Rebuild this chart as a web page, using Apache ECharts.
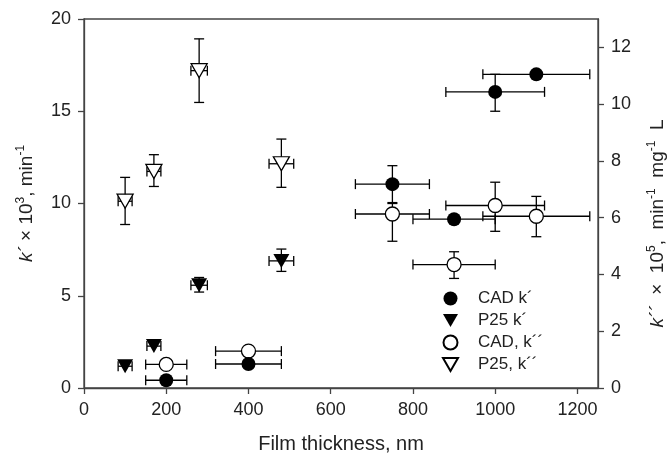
<!DOCTYPE html>
<html>
<head>
<meta charset="utf-8">
<script src="https://cdn.jsdelivr.net/npm/echarts@6/dist/echarts.min.js"></script>
<style>
  html, body { margin: 0; padding: 0; background: #fff; }
  #main { width: 667px; height: 456px; }
</style>
</head>
<body>
<div id="main"></div>
<script>
// CAD films: thickness (nm), k' (left axis) and k'' (right axis)
const cadThick = [200, 400, 750, 900, 1000, 1100];
const cadXLo = [150, 320, 660, 800, 880, 970];
const cadXHi = [250, 480, 840, 1000, 1120, 1230];
const cadK1 = [0.42, 1.3, 11.05, 9.15, 16.05, 17.0];
const cadK1Lo = [null, null, 10.05, null, 15.0, null];
const cadK1Hi = [null, null, 12.05, null, 17.0, null];
const cadK2 = [0.83, 1.3, 6.13, 4.35, 6.43, 6.05];
const cadK2Lo = [null, null, 5.17, 3.86, 5.52, 5.33];
const cadK2Hi = [null, null, 6.5, 4.8, 7.25, 6.75];

// P25 films
const p25Thick = [100, 170, 280, 480];
const p25XLo = [83, 153, 260, 450];
const p25XHi = [117, 187, 300, 510];
const p25K1 = [1.18, 2.27, 5.57, 6.89];
const p25K1Lo = [null, null, 5.2, 6.32];
const p25K1Hi = [null, null, 5.99, 7.53];
const p25K2 = [6.58, 7.63, 11.18, 7.9];
const p25K2Lo = [5.76, 7.1, 10.06, 7.07];
const p25K2Hi = [7.42, 8.22, 12.3, 8.77];

const xTicks = [0, 200, 400, 600, 800, 1000, 1200];
const names = ['CAD k\u00b4', 'P25 k\u00b4', 'CAD, k\u00b4\u00b4', 'P25, k\u00b4\u00b4'];

const FONT = '"Liberation Sans", Arial, sans-serif';
const INK = '#222';
const DOWN = 'path://M0,0 L16,0 L8,14 Z';

function pts(xs, ys) {
  return xs.map((x, i) => [x, ys[i]]);
}

function errRows(xs, ys, xlo, xhi, ylo, yhi) {
  const f = v => (v == null ? NaN : v);
  return xs.map((x, i) => [x, ys[i], f(xlo[i]), f(xhi[i]), f(ylo[i]), f(yhi[i])]);
}

function renderErr(params, api) {
  const x = api.value(0), y = api.value(1);
  const xlo = api.value(2), xhi = api.value(3), ylo = api.value(4), yhi = api.value(5);
  const cap = 5;
  const st = { stroke: '#000', lineWidth: 1.3 };
  const kids = [];
  const line = (x1, y1, x2, y2) => kids.push({ type: 'line', shape: { x1, y1, x2, y2 }, style: st });
  if (isFinite(xlo) && isFinite(xhi)) {
    const l = api.coord([xlo, y]), r = api.coord([xhi, y]);
    line(l[0], l[1], r[0], r[1]);
    line(l[0], l[1] - cap, l[0], l[1] + cap);
    line(r[0], r[1] - cap, r[0], r[1] + cap);
  }
  if (isFinite(ylo) && isFinite(yhi)) {
    const t = api.coord([x, yhi]), b = api.coord([x, ylo]);
    line(t[0], t[1], b[0], b[1]);
    line(t[0] - cap, t[1], t[0] + cap, t[1]);
    line(b[0] - cap, b[1], b[0] + cap, b[1]);
  }
  return { type: 'group', children: kids };
}

function errSeries(name, rows, yAxisIndex) {
  return {
    name: name, type: 'custom', yAxisIndex: yAxisIndex, z: 2,
    renderItem: renderErr, data: rows, encode: { x: 0, y: 1 },
    silent: true, animation: false
  };
}

const openStyle = { color: '#fff', borderColor: '#000', borderWidth: 1.3, opacity: 1 };
const fillStyle = { color: '#000', opacity: 1 };

const chart = echarts.init(document.getElementById('main'), null, { renderer: 'canvas' });

const axisCommon = {
  axisLine: { show: true, lineStyle: { color: '#444', width: 1.3 } },
  axisTick: { show: true, length: 6, lineStyle: { color: '#444', width: 1.3 } },
  axisLabel: { color: INK, fontSize: 18, fontFamily: FONT, margin: 13 },
  splitLine: { show: false }
};

function nameRich(size) {
  return {
    i: { fontStyle: 'italic', fontSize: size, fontFamily: FONT, color: INK },
    t: { fontSize: size, fontFamily: FONT, color: INK },
    s: { fontSize: 12, fontFamily: FONT, color: INK, verticalAlign: 'top', lineHeight: size + 4 }
  };
}

chart.setOption({
  backgroundColor: '#fff',
  animation: false,
  grid: {
    left: 84, right: 69, top: 19, bottom: 68,
    outerBoundsMode: 'none', containLabel: false,
    show: true, borderColor: '#444', borderWidth: 1.3, backgroundColor: 'transparent'
  },
  legend: {
    data: [
      { name: names[0], icon: 'circle' },
      { name: names[1], icon: DOWN },
      { name: names[2], icon: 'circle' },
      { name: names[3], icon: DOWN }
    ],
    orient: 'vertical',
    left: 437, top: 285,
    itemWidth: 15, itemHeight: 14, itemGap: 5,
    textStyle: { color: INK, fontSize: 17, fontFamily: FONT, padding: [0, 0, 0, 15] }
  },
  xAxis: Object.assign({}, axisCommon, {
    type: 'value', min: 0, max: 1250, interval: 200,
    name: 'Film thickness, nm', nameLocation: 'middle', nameGap: 46,
    nameTextStyle: { color: INK, fontSize: 20, fontFamily: FONT },
    axisLabel: Object.assign({}, axisCommon.axisLabel, { showMaxLabel: false, formatter: v => xTicks.includes(v) ? String(v) : '' })
  }),
  yAxis: [
    Object.assign({}, axisCommon, {
      type: 'value', min: 0, max: 20, interval: 5, position: 'left',
      name: '{i|k\u00b4}{t| \u00d7 10}{s|3}{t|, min}{s|-1}', nameLocation: 'middle', nameGap: 46, nameRotate: 90,
      nameTextStyle: { rich: nameRich(19) }
    }),
    Object.assign({}, axisCommon, {
      type: 'value', min: 0, max: 13, interval: 2, position: 'right',
      axisLabel: Object.assign({}, axisCommon.axisLabel, { showMaxLabel: false }),
      name: '{i|k\u00b4\u00b4}{t|  \u00d7  10}{s|5}{t|,  min}{s|-1}{t|  mg}{s|-1}{t|  L}', nameLocation: 'middle', nameGap: 48, nameRotate: 90,
      nameTextStyle: { rich: nameRich(19), padding: [0, 40, 0, 0] }
    })
  ],
  series: [
    errSeries('errCadK2', errRows(cadThick, cadK2, cadXLo, cadXHi, cadK2Lo, cadK2Hi), 1),
    errSeries('errP25K2', errRows(p25Thick, p25K2, p25XLo, p25XHi, p25K2Lo, p25K2Hi), 1),
    errSeries('errCadK1', errRows(cadThick, cadK1, cadXLo, cadXHi, cadK1Lo, cadK1Hi), 0),
    errSeries('errP25K1', errRows(p25Thick, p25K1, p25XLo, p25XHi, p25K1Lo, p25K1Hi), 0),
    {
      name: names[2], type: 'scatter', yAxisIndex: 1, z: 3,
      symbol: 'circle', symbolSize: 14, itemStyle: openStyle,
      data: pts(cadThick, cadK2)
    },
    {
      name: names[3], type: 'scatter', yAxisIndex: 1, z: 3,
      symbol: DOWN, symbolSize: [16, 14], itemStyle: openStyle,
      data: pts(p25Thick, p25K2)
    },
    {
      name: names[0], type: 'scatter', yAxisIndex: 0, z: 4,
      symbol: 'circle', symbolSize: 14, itemStyle: fillStyle,
      data: pts(cadThick, cadK1)
    },
    {
      name: names[1], type: 'scatter', yAxisIndex: 0, z: 4,
      symbol: DOWN, symbolSize: [16, 14], itemStyle: fillStyle,
      data: pts(p25Thick, p25K1)
    }
  ]
});
</script>
</body>
</html>
